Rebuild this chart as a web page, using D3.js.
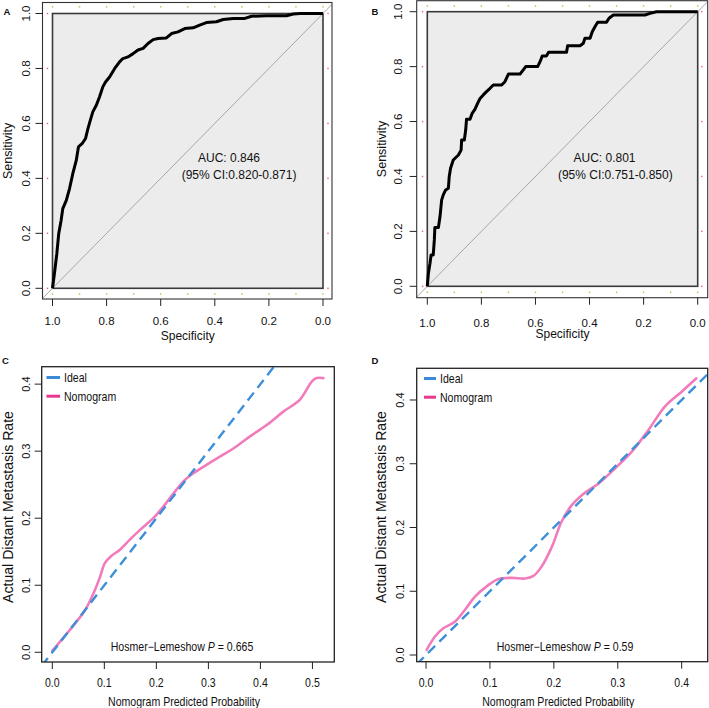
<!DOCTYPE html>
<html><head><meta charset="utf-8">
<script src="https://cdn.jsdelivr.net/npm/d3@7"></script>
<style>
body{margin:0;background:#fff}
svg{display:block}
text{font-family:"Liberation Sans",Arial,Helvetica,sans-serif;fill:#111}
</style>
</head><body>
<svg id="chart" width="709" height="708"></svg>
<script>
// ---------------- DATA ----------------
// ROC A: [specificity, sensitivity]
const rocA = [[1.000,0.000],[0.993,0.053],[0.984,0.126],[0.977,0.199],[0.968,0.248],[0.962,0.290],[0.949,0.320],
[0.937,0.363],[0.925,0.417],[0.912,0.466],[0.904,0.515],[0.890,0.527],[0.878,0.545],[0.869,0.581],[0.860,0.612],
[0.851,0.642],[0.838,0.666],[0.826,0.697],[0.814,0.733],[0.804,0.751],[0.789,0.769],[0.770,0.800],[0.752,0.824],
[0.740,0.836],[0.721,0.842],[0.702,0.854],[0.684,0.867],[0.665,0.873],[0.647,0.891],[0.628,0.905],[0.610,0.909],
[0.579,0.911],[0.560,0.927],[0.536,0.933],[0.511,0.945],[0.480,0.948],[0.456,0.958],[0.431,0.967],[0.394,0.970],
[0.369,0.978],[0.332,0.982],[0.289,0.982],[0.264,0.990],[0.209,0.992],[0.135,0.992],[0.110,0.998],[0.085,1.000],[0.000,1.000]];
// ROC B
const rocB = [[1.000,0.000],[0.996,0.047],[0.990,0.084],[0.986,0.114],[0.978,0.114],[0.974,0.169],[0.972,0.214],
[0.959,0.214],[0.953,0.254],[0.947,0.314],[0.941,0.333],[0.932,0.351],[0.922,0.357],[0.919,0.399],[0.914,0.430],
[0.904,0.460],[0.885,0.478],[0.875,0.496],[0.873,0.533],[0.863,0.533],[0.858,0.569],[0.855,0.608],[0.842,0.608],
[0.834,0.630],[0.824,0.644],[0.814,0.666],[0.805,0.684],[0.793,0.697],[0.781,0.709],[0.768,0.721],[0.756,0.733],
[0.725,0.733],[0.713,0.745],[0.700,0.773],[0.657,0.773],[0.645,0.788],[0.636,0.800],[0.592,0.800],[0.583,0.818],
[0.575,0.839],[0.559,0.839],[0.552,0.852],[0.485,0.852],[0.481,0.876],[0.435,0.876],[0.423,0.885],[0.417,0.903],
[0.398,0.903],[0.390,0.927],[0.380,0.945],[0.370,0.962],[0.337,0.962],[0.328,0.976],[0.312,0.988],[0.195,0.988],
[0.176,0.994],[0.152,1.000],[0.000,1.000]];
const aucA = ["AUC: 0.846", "(95% CI:0.820-0.871)"];
const aucB = ["AUC: 0.801", "(95% CI:0.751-0.850)"];
const rocTicksX = [1.0,0.8,0.6,0.4,0.2,0.0];
const rocTicksY = [0.0,0.2,0.4,0.6,0.8,1.0];

// Calibration C: [predicted, actual]
const calC = [[0.000,0.002],[0.028,0.028],[0.044,0.043],[0.063,0.063],[0.082,0.093],[0.092,0.113],[0.101,0.133],
[0.114,0.144],[0.130,0.153],[0.149,0.168],[0.169,0.183],[0.194,0.200],[0.213,0.217],[0.233,0.237],[0.252,0.255],
[0.271,0.267],[0.297,0.280],[0.322,0.292],[0.348,0.304],[0.380,0.322],[0.412,0.339],[0.444,0.359],[0.476,0.377],
[0.499,0.404],[0.508,0.409],[0.521,0.409]];
// Calibration D
const calD = [[0.001,0.008],[0.014,0.029],[0.027,0.042],[0.045,0.052],[0.061,0.071],[0.077,0.092],[0.098,0.110],
[0.113,0.119],[0.134,0.121],[0.155,0.120],[0.168,0.124],[0.181,0.139],[0.197,0.170],[0.212,0.209],[0.228,0.235],
[0.249,0.255],[0.270,0.269],[0.296,0.293],[0.322,0.319],[0.348,0.353],[0.374,0.390],[0.400,0.413],[0.423,0.434]];
const calTicksXC = [0.0,0.1,0.2,0.3,0.4,0.5];
const calTicksXD = [0.0,0.1,0.2,0.3,0.4];
const calTicksY = [0.0,0.1,0.2,0.3,0.4];
const legendLabels = ["Ideal","Nomogram"];
const hlC = "0.665", hlD = "0.59";

// ---------------- DRAW ----------------
const svg = d3.select("#chart");
const fmt = d3.format(".1f");
const FONT = '"Liberation Sans",Arial,sans-serif';

function htext(g, x, y, str, size, anchor, sx, weight){
  return g.append("text").attr("transform",`translate(${x},${y}) scale(${sx||1},1)`)
    .attr("font-size",size).attr("text-anchor",anchor||"middle")
    .attr("font-weight",weight||"normal").text(str);
}
function vtext(g, x, y, str, size){
  return g.append("text").attr("transform",`translate(${x},${y}) rotate(-90)`)
    .attr("font-size",size).attr("text-anchor","middle").text(str);
}

function drawROC(o){
  const g = svg.append("g");
  const x = d3.scaleLinear().domain([1,0]).range([o.ix0,o.ix1]);
  const y = d3.scaleLinear().domain([0,1]).range([o.iy1,o.iy0]);
  // outer box
  const id = "clip"+o.letter;
  g.append("clipPath").attr("id",id).append("rect")
    .attr("x",o.ox0).attr("y",o.oy0).attr("width",o.ox1-o.ox0).attr("height",o.oy1-o.oy0);
  // inner grey region
  g.append("rect").attr("x",x(1)).attr("y",y(1)).attr("width",x(0)-x(1)).attr("height",y(0)-y(1))
    .attr("fill","#ececec").attr("stroke","#3a3a3a").attr("stroke-width",1.6);
  // diagonal reference
  g.append("line").attr("clip-path",`url(#${id})`)
    .attr("x1",x(1.1)).attr("y1",y(-0.1)).attr("x2",x(-0.1)).attr("y2",y(1.1))
    .attr("stroke","#a6a6a6").attr("stroke-width",1);
  // decorative grid dots
  d3.range(0,11).forEach(i=>{
    const v=i/10;
    [o.gTop,o.gBot].forEach(yy=>g.append("rect").attr("x",x(v)-0.7).attr("y",yy-0.7).attr("width",1.4).attr("height",1.4).attr("fill","#8fd14f"));
  });
  rocTicksY.forEach(v=>{
    [o.rL,o.rR].forEach(xx=>g.append("rect").attr("x",xx-0.7).attr("y",y(v)-0.7).attr("width",1.4).attr("height",1.4).attr("fill","#ff5a5a"));
  });
  // curve
  g.append("path").datum(o.data)
    .attr("d",d3.line().x(d=>x(d[0])).y(d=>y(d[1])))
    .attr("fill","none").attr("stroke","#000").attr("stroke-width",3).attr("stroke-linejoin","round");
  // outer frame
  g.append("rect").attr("x",o.ox0).attr("y",o.oy0).attr("width",o.ox1-o.ox0).attr("height",o.oy1-o.oy0)
    .attr("fill","none").attr("stroke","#333").attr("stroke-width",1.1);
  // x axis
  rocTicksX.forEach(v=>{
    g.append("line").attr("x1",x(v)).attr("x2",x(v)).attr("y1",o.oy1).attr("y2",o.oy1+7).attr("stroke","#222").attr("stroke-width",1);
    htext(g,x(v),o.xtY,fmt(v),11.5,"middle");
  });
  htext(g,(o.ix0+o.ix1)/2,o.xlabY,"Specificity",12,"middle");
  // y axis
  rocTicksY.forEach(v=>{
    g.append("line").attr("x1",o.ox0-7).attr("x2",o.ox0).attr("y1",y(v)).attr("y2",y(v)).attr("stroke","#222").attr("stroke-width",1);
    vtext(g,o.ytX,y(v),fmt(v),11.5);
  });
  vtext(g,o.ylabX,(o.iy0+o.iy1)/2,"Sensitivity",12.5);
  // AUC text
  htext(g,o.a1x,o.a1y,o.auc[0],12,"middle");
  htext(g,o.a2x,o.a2y,o.auc[1],12,"middle");
  // letter
  htext(g,o.lx,o.ly,o.letter,9.5,"start",1,"bold");
}

drawROC({letter:"A",data:rocA,auc:aucA,
  ix0:52.5,ix1:323,iy0:13.5,iy1:288.3, ox0:42.5,ox1:332,oy0:2.5,oy1:299,
  gTop:6.8,gBot:294,rL:47.5,rR:328,
  xtY:325,xlabY:340,ytX:29.5,ylabX:11.5,
  a1x:229,a1y:162,a2x:239,a2y:179, lx:3.5,ly:15});
drawROC({letter:"B",data:rocB,auc:aucB,
  ix0:427.3,ix1:697.7,iy0:11.7,iy1:286.3, ox0:416.7,ox1:707.7,oy0:0.7,oy1:297.7,
  gTop:6,gBot:292.3,rL:422.5,rR:701.8,
  xtY:327,xlabY:338,ytX:402,ylabX:385.5,
  a1x:604.5,a1y:162,a2x:615.3,a2y:179, lx:371.5,ly:15});

function drawCal(o){
  const g = svg.append("g");
  const x = d3.scaleLinear().domain(o.xdom).range([o.bx0,o.bx1]);
  const y = d3.scaleLinear().domain(o.ydom).range([o.by1,o.by0]);
  const id="clip"+o.letter;
  g.append("clipPath").attr("id",id).append("rect")
    .attr("x",o.bx0).attr("y",o.by0).attr("width",o.bx1-o.bx0).attr("height",o.by1-o.by0);
  const pg = g.append("g").attr("clip-path",`url(#${id})`);
  // nomogram curve
  pg.append("path").datum(o.data)
    .attr("d",d3.line().curve(d3.curveCatmullRom.alpha(0.5)).x(d=>x(d[0])).y(d=>y(d[1])))
    .attr("fill","none").attr("stroke","#f27bbb").attr("stroke-width",2.6).attr("stroke-linecap","round");
  // ideal dashed line
  const lo=Math.min(o.xdom[0],o.ydom[0]), hi=Math.max(o.xdom[1],o.ydom[1]);
  pg.append("line").attr("x1",x(lo)).attr("y1",y(lo)).attr("x2",x(hi)).attr("y2",y(hi))
    .attr("stroke","#3d8fd9").attr("stroke-width",2.4).attr("stroke-dasharray","10,6");
  // box
  g.append("rect").attr("x",o.bx0).attr("y",o.by0).attr("width",o.bx1-o.bx0).attr("height",o.by1-o.by0)
    .attr("fill","none").attr("stroke","#222").attr("stroke-width",1.3);
  // x axis
  o.xticks.forEach(v=>{
    g.append("line").attr("x1",x(v)).attr("x2",x(v)).attr("y1",o.by1).attr("y2",o.by1+7).attr("stroke","#222");
    htext(g,x(v),687,fmt(v),12,"middle",0.88);
  });
  htext(g,(o.bx0+o.bx1)/2-4,705.5,"Nomogram Predicted Probability",12,"middle",0.88);
  // y axis
  calTicksY.forEach(v=>{
    g.append("line").attr("x1",o.bx0-7).attr("x2",o.bx0).attr("y1",y(v)).attr("y2",y(v)).attr("stroke","#222");
    vtext(g,o.ytX,y(v),fmt(v),11);
  });
  vtext(g,o.ylabX,507,"Actual Distant Metastasis Rate",14.1);
  // legend
  const cols=["#3a8ad6","#e9368f"];
  legendLabels.forEach((t,i)=>{
    const ly=o.legY+i*18.7;
    g.append("line").attr("x1",o.legX0).attr("x2",o.legX1).attr("y1",ly).attr("y2",ly)
      .attr("stroke",cols[i]).attr("stroke-width",3);
    htext(g,o.legX1+4,ly+4.3,t,12,"start",0.88);
  });
  // Hosmer-Lemeshow
  const t = g.append("text").attr("transform",`translate(${o.hx},651) scale(0.88,1)`)
    .attr("font-size",12).attr("text-anchor","middle");
  t.append("tspan").text("Hosmer\u2212Lemeshow ");
  t.append("tspan").attr("font-style","italic").text("P");
  t.append("tspan").text("  = "+o.hl);
  htext(g,o.lx,o.ly,o.letter,9.5,"start",1,"bold");
}

drawCal({letter:"C",data:calC,xticks:calTicksXC,hl:hlC,
  xdom:[-0.0204,0.542],ydom:[-0.0145,0.426],bx0:41.7,bx1:334.3,by0:366.7,by1:662,
  ytX:30,ylabX:12.5,legX0:46.5,legX1:60,legY:377.5,hx:182,lx:2,ly:363.5});
drawCal({letter:"D",data:calD,xticks:calTicksXD,hl:hlD,
  xdom:[-0.0146,0.4407],ydom:[-0.0105,0.4497],bx0:416.7,bx1:707.7,by0:368.3,by1:661.7,
  ytX:403.5,ylabX:386,legX0:424,legX1:436,legY:378.5,hx:565,lx:371.5,ly:364});
</script>
</body></html>
